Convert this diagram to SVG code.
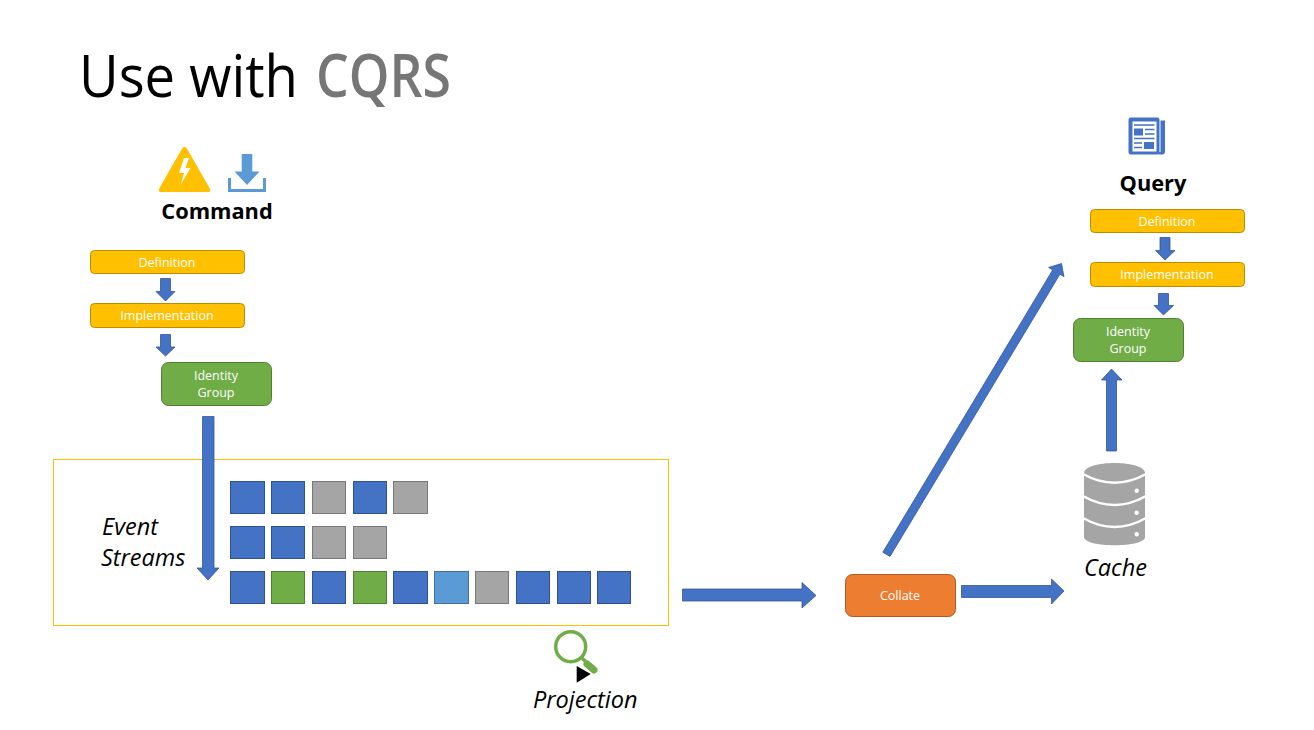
<svg xmlns="http://www.w3.org/2000/svg" width="1314" height="730" viewBox="0 0 1314 730">
<style>
text{font-family:"Open Sans","Noto Sans","Liberation Sans",sans-serif}
.t{text-anchor:middle;fill:#fff;font-size:12.5px}
.y{fill:#FFC000;stroke:#BC8C00;stroke-width:1}
.g{fill:#70AD47;stroke:#507E32;stroke-width:1}
.o{fill:#ED7D31;stroke:#AE5A21;stroke-width:1}
.b{fill:#4472C4;stroke:#2F528F;stroke-width:1}
.gr{fill:#A5A5A5;stroke:#787878;stroke-width:1}
.gn{fill:#70AD47;stroke:#507E32;stroke-width:1}
.lb{fill:#5B9BD5;stroke:#41719C;stroke-width:1}
.a{fill:#4472C4;stroke:#2F528F;stroke-width:.75}
.h{font-weight:700;font-size:21.800px;fill:#000;text-anchor:middle}
.i{font-style:italic;font-size:23.500px;fill:#000}
.d{fill:none;stroke:#fff;stroke-width:2.500}
</style>
<rect width="1314" height="730" fill="#fff"/>
<text x="79" y="96.500" font-size="59" fill="#000" textLength="219" lengthAdjust="spacingAndGlyphs">Use with</text>
<text x="316" y="96.500" font-size="59" font-weight="600" fill="#767676" textLength="135" lengthAdjust="spacingAndGlyphs">CQRS</text>
<g id="event-streams-box">
<rect x="53.500" y="459.500" width="615" height="166" fill="#fff" stroke="#FFC000"/>
<text class="i" x="102" y="534.500">Event</text>
<text class="i" x="101" y="565.500">Streams</text>
</g>
<g id="command-label">
<path d="M184.500 147C183 147 182.500 148 181.500 149.500L159 189C158.300 190.500 159 192 160.500 192H208.500C210 192 210.700 190.500 210 189L187.500 149.500C186.500 148 186 147 184.500 147Z" fill="#FFC000"/>
<path d="M184 158L179 173H184L180.500 185L190.500 168H185.500L189 158Z" fill="#fff"/>
<path d="M241.700 154H252.300V171.500H259.500L247 185L234.500 171.500H241.700Z" fill="#5B9BD5"/>
<path d="M229.500 178V190.500H264.500V178" fill="none" stroke="#5B9BD5" stroke-width="3"/>
<text class="h" x="217" y="219">Command</text>
</g>
<g id="cmd-definition"><rect class="y" x="90.500" y="250.500" width="154" height="23" rx="4"/><text class="t" x="167" y="266.500">Definition</text></g>
<g id="cmd-implementation"><rect class="y" x="90.500" y="303.500" width="154" height="24" rx="4"/><text class="t" x="167" y="320">Implementation</text></g>
<g id="cmd-identity"><rect class="g" x="161.500" y="362.500" width="110" height="43" rx="7"/><text class="t" x="216" y="380">Identity</text><text class="t" x="216" y="397">Group</text></g>
<g id="stream-squares">
<rect class="b" x="230.500" y="481.500" width="34" height="32"/>
<rect class="b" x="271.500" y="481.500" width="33" height="32"/>
<rect class="gr" x="312.500" y="481.500" width="33" height="32"/>
<rect class="b" x="353.500" y="481.500" width="33" height="32"/>
<rect class="gr" x="393.500" y="481.500" width="34" height="32"/>
<rect class="b" x="230.500" y="526.500" width="34" height="32"/>
<rect class="b" x="271.500" y="526.500" width="33" height="32"/>
<rect class="gr" x="312.500" y="526.500" width="33" height="32"/>
<rect class="gr" x="353.500" y="526.500" width="33" height="32"/>
<rect class="b" x="230.500" y="571.500" width="34" height="32"/>
<rect class="gn" x="271.500" y="571.500" width="33" height="32"/>
<rect class="b" x="312.500" y="571.500" width="33" height="32"/>
<rect class="gn" x="353.500" y="571.500" width="33" height="32"/>
<rect class="b" x="393.500" y="571.500" width="34" height="32"/>
<rect class="lb" x="434.500" y="571.500" width="34" height="32"/>
<rect class="gr" x="475.500" y="571.500" width="33" height="32"/>
<rect class="b" x="516.500" y="571.500" width="33" height="32"/>
<rect class="b" x="557.500" y="571.500" width="33" height="32"/>
<rect class="b" x="597.500" y="571.500" width="33" height="32"/>
</g>
<g id="projection">
<circle cx="570.700" cy="646.700" r="15" fill="none" stroke="#70AD47" stroke-width="3.500"/>
<path d="M581.500 657.500L587 663" stroke="#70AD47" stroke-width="3.500"/>
<path d="M587 664L594 670" stroke="#70AD47" stroke-width="7" stroke-linecap="round"/>
<path d="M576.700 666L590.700 674L576.700 682.700Z" fill="#000"/>
<text class="i" x="533" y="708">Projection</text>
</g>
<g id="collate"><rect class="o" x="845.500" y="574.500" width="110" height="42" rx="7"/><text class="t" x="900" y="600">Collate</text></g>
<g id="cache">
<path d="M1084 473C1084 459.500 1145 459.500 1145 473V537C1145 548 1084 548 1084 537Z" fill="#A5A5A5"/>
<path class="d" d="M1083 474Q1114.500 491.500 1146 474"/>
<path class="d" d="M1083 496Q1114.500 514 1146 496"/>
<path class="d" d="M1083 518Q1114.500 536 1146 518"/>
<circle cx="1136.700" cy="490.700" r="2.200" fill="#fff"/><circle cx="1136.700" cy="512.700" r="2.200" fill="#fff"/><circle cx="1136.700" cy="534.300" r="2.200" fill="#fff"/>
<text class="i" x="1084" y="576">Cache</text>
</g>
<g id="query-label">
<rect x="1128.500" y="117.500" width="31" height="37" rx="2.500" fill="#4472C4"/>
<path d="M1160.500 120.500H1165V151.500Q1165 154.500 1162 154.500H1158.500V152H1160.500Z" fill="#4472C4"/>
<rect x="1132.500" y="121.500" width="24" height="30" fill="#fff"/>
<rect x="1134" y="128.500" width="9" height="7" fill="#4472C4"/>
<rect x="1144" y="142" width="10" height="7" fill="#4472C4"/>
<path d="M1134 125H1154.500M1145 129.500H1154.500M1145 134H1154.500M1134 138.500H1154.500M1134 143H1142M1134 147.500H1142" stroke="#4472C4" stroke-width="1.500"/>
<text class="h" x="1153" y="191">Query</text>
</g>
<g id="qry-definition"><rect class="y" x="1090.500" y="209.500" width="154" height="23" rx="4"/><text class="t" x="1167" y="225.500">Definition</text></g>
<g id="qry-implementation"><rect class="y" x="1090.500" y="262.500" width="154" height="24" rx="4"/><text class="t" x="1167" y="279">Implementation</text></g>
<g id="qry-identity"><rect class="g" x="1073.500" y="318.500" width="110" height="43" rx="7"/><text class="t" x="1128" y="336">Identity</text><text class="t" x="1128" y="353">Group</text></g>
<g id="connectors">
<path class="a" d="M160.500 278.500H170.500V291.500H175L165.500 301L156 291.500H160.500Z"/>
<path class="a" d="M160.500 334.500H170.500V347H175L165.500 356L156 347H160.500Z"/>
<path class="a" d="M202.500 416.500H214V568H219L208 580L197 568H202.500Z"/>
<path class="a" d="M682.500 589H802V582.500L816 595.500L802 608V601H682.500Z"/>
<path class="a" d="M961.500 585.500H1051.500V579L1064 591L1051.500 604V597.500H961.500Z"/>
<path class="a" d="M882.800 552.200L1052.700 269.900L1048.600 267.500L1061.500 263.500L1064 276.700L1059.900 274.300L890 556.400Z"/>
<path class="a" d="M1106.500 451V380H1101.500L1111.500 369L1122 380H1116.500V451Z"/>
<path class="a" d="M1160 237.500H1170V250.500H1175L1165 260L1155.500 250.500H1160Z"/>
<path class="a" d="M1158.500 293.500H1168.500V305.500H1173.500L1163.500 315L1154 305.500H1158.500Z"/>
</g>
</svg>
